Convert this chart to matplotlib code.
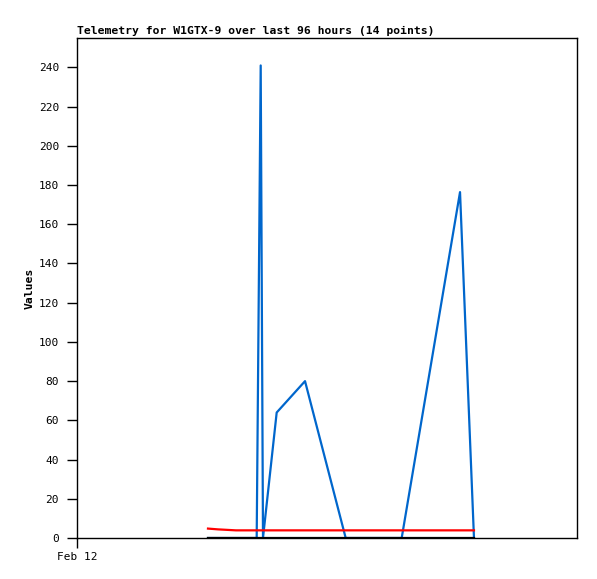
import numpy as np
from matplotlib import pyplot as plt

# hours since Feb 12 00:00
hours = [25.15, 27.07, 30.53, 34.5, 35.27, 35.71, 38.34, 43.78, 51.59, 62.34, 73.54, 76.22]
blue_vals = [0, 0, 0, 0, 241, 0, 64, 80, 0, 0, 176.4, 0]
red_vals = [4.8, 4.4, 3.9, 3.9, 3.9, 3.9, 3.9, 3.9, 3.9, 3.9, 3.9, 3.9]
black_vals = [0] * len(hours)

ytick_vals = list(range(0, 241, 20))
xtick_vals = [0]
xtick_labels = ['Feb 12']

mono = 'DejaVu Sans Mono'

fig = plt.figure(figsize=(5.97, 5.79), dpi=100)
ax = fig.add_axes([77/597, 41/579, 500/597, 500/579])

ax.plot(hours, blue_vals, color='#0066cc', lw=1.6)
ax.plot(hours, red_vals, color='#ff0000', lw=1.6)
ax.plot(hours, black_vals, color='#000000', lw=1.6)

ax.set_xlim(0, 96)
ax.set_ylim(0, 255)
ax.set_yticks(ytick_vals)
ax.set_yticklabels([str(v) for v in ytick_vals], family=mono, fontsize=8)
ax.set_xticks(xtick_vals)
ax.set_xticklabels(xtick_labels, family=mono, fontsize=8)
ax.tick_params(axis='y', direction='out', length=7, width=1, pad=6)
ax.tick_params(axis='x', direction='out', length=7, width=1, pad=3)
for s in ax.spines.values():
    s.set_linewidth(1)

ax.set_ylabel('Values', family=mono, fontweight='bold', fontsize=8.2)
ax.yaxis.set_label_coords(-0.084, 0.5)
ax.set_title('Telemetry for W1GTX-9 over last 96 hours (14 points)', family=mono,
             fontweight='bold', fontsize=8.2, loc='left', pad=3)

fig.savefig('out.png', dpi=100)
